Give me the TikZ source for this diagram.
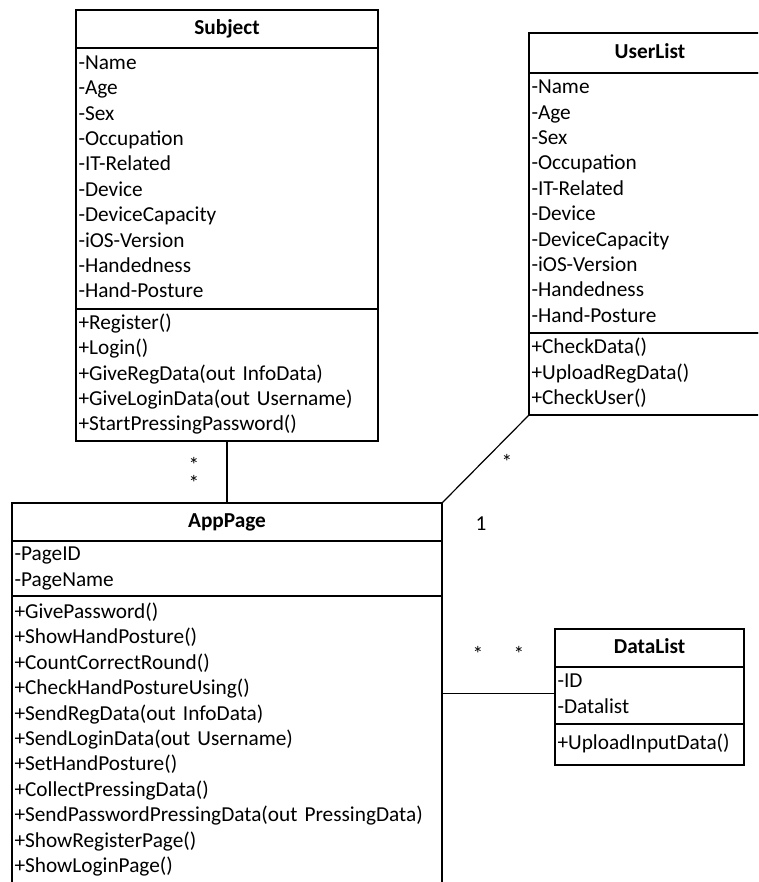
\documentclass[tikz,border=0pt]{standalone}
\usepackage{fontspec}
\setmainfont{Carlito}
\newcommand\classfont{\fontsize{21.3}{25.4}\selectfont}
\begin{document}
\begin{tikzpicture}[x=1pt,y=-1pt,
  box/.style={draw, line width=1.8pt, anchor=north west, inner sep=0pt, outer sep=0pt},
  head/.style={box, font=\classfont\bfseries, align=center, execute at begin node=\strut},
  part/.style={box, font=\classfont, align=left, inner xsep=2.5pt,
    execute at begin node=\strut, execute at end node=\strut},
  link/.style={draw, line width=1.2pt},
  mult/.style={font=\classfont, inner sep=0pt, anchor=base}]
\useasboundingbox (0,0) rectangle (758,882);
\clip (0,0) rectangle (758,882);

% Subject class
\node[head, minimum width=302pt, minimum height=38pt] (subjT) at (76,10) {Subject};
\node[part, minimum width=302pt, minimum height=261pt, text width=297pt] (subjA) at (76,48)
  {-Name\\-Age\\-Sex\\-Occupation\\-IT-Related\\-Device\\-DeviceCapacity\\-iOS-Version\\-Handedness\\-Hand-Posture};
\node[part, minimum width=302pt, minimum height=132pt, text width=297pt] (subjM) at (76,309)
  {+Register()\\+Login()\\+GiveRegData(out InfoData)\\+GiveLoginData(out Username)\\+StartPressingPassword()};

% UserList class
\node[head, minimum width=242pt, minimum height=40pt] (userT) at (529,33) {UserList};
\node[part, minimum width=242pt, minimum height=260pt, text width=237pt] (userA) at (529,73)
  {-Name\\-Age\\-Sex\\-Occupation\\-IT-Related\\-Device\\-DeviceCapacity\\-iOS-Version\\-Handedness\\-Hand-Posture};
\node[part, minimum width=242pt, minimum height=82pt, text width=237pt] (userM) at (529,333)
  {+CheckData()\\+UploadRegData()\\+CheckUser()};

% AppPage class
\node[head, minimum width=430pt, minimum height=38pt] (appT) at (12,503) {AppPage};
\node[part, minimum width=430pt, minimum height=55pt, text width=425pt] (appA) at (12,541)
  {-PageID\\-PageName};
\node[part, minimum width=430pt, minimum height=289pt, text width=425pt] (appM) at (12,596)
  {+GivePassword()\\+ShowHandPosture()\\+CountCorrectRound()\\+CheckHandPostureUsing()\\+SendRegData(out InfoData)\\+SendLoginData(out Username)\\+SetHandPosture()\\+CollectPressingData()\\+SendPasswordPressingData(out PressingData)\\+ShowRegisterPage()\\+ShowLoginPage()};

% DataList class
\node[head, minimum width=189pt, minimum height=38pt] (dataT) at (555,629) {DataList};
\node[part, minimum width=189pt, minimum height=57pt, text width=184pt] (dataA) at (555,667)
  {-ID\\-Datalist};
\node[part, minimum width=189pt, minimum height=41pt, text width=184pt] (dataM) at (555,724)
  {+UploadInputData()};

% associations
\draw[link] (subjM.south) -- (appT.north);
\draw[link] (userM.south west) -- (appT.north east);
\draw[link] ([yshift=2pt]dataA.west) -- ([yshift=2pt]dataA.west -| appM.east);

% multiplicities
\node[font=\fontsize{21.3}{18}\selectfont, inner sep=0pt, align=center, anchor=base] (mSubj) at (194,490) {*\\*};
\node[mult] (mUser) at (507,469) {*};
\node[mult] (mApp) at (481,530) {1};
\node[mult] (mData1) at (478,661) {*};
\node[mult] (mData2) at (519,661) {*};
\end{tikzpicture}
\end{document}
